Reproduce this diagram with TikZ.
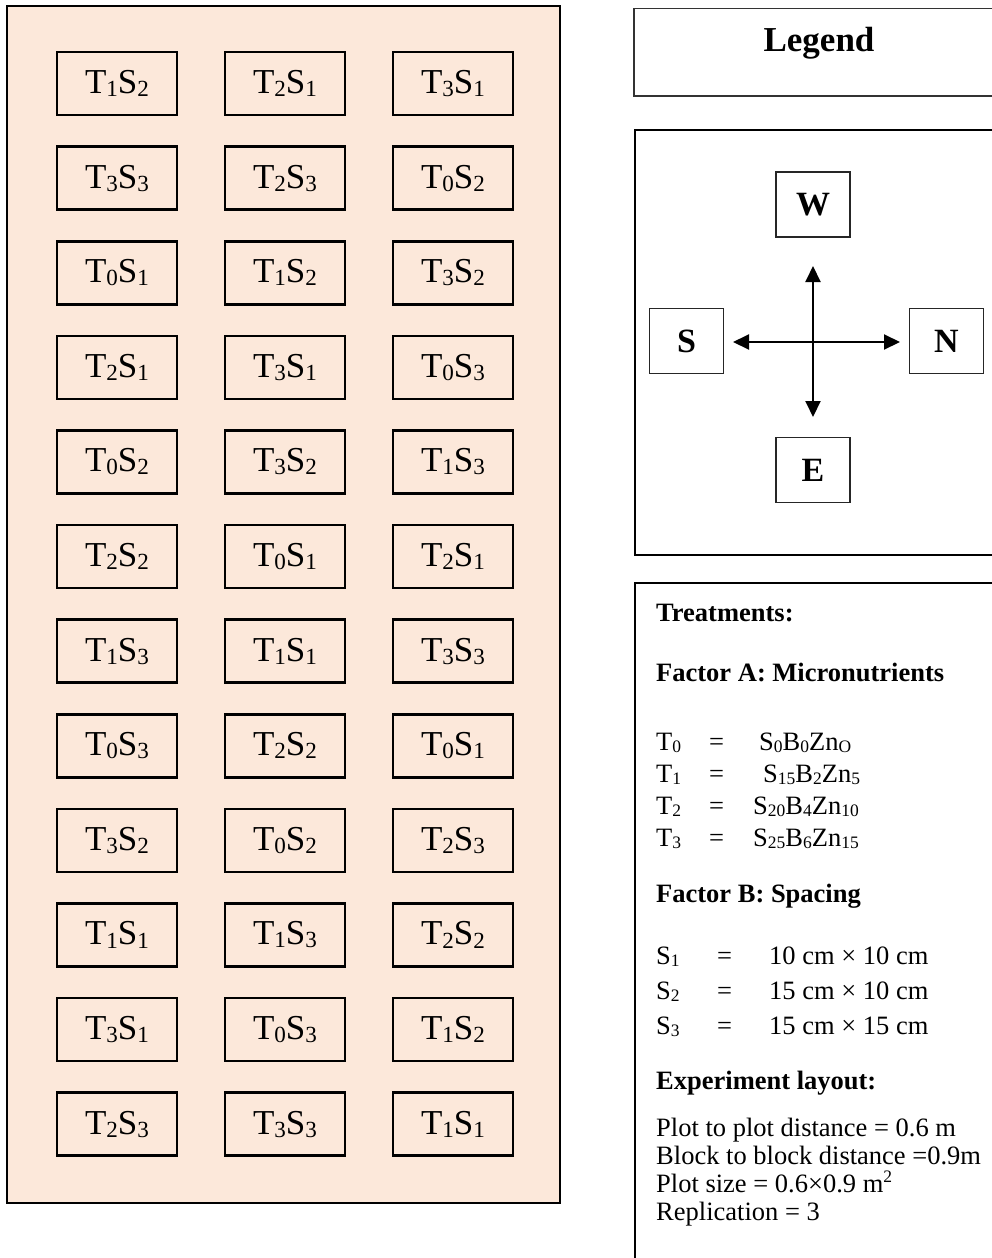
\documentclass[tikz,border=0pt]{standalone}
\usepackage{fontspec}
\setmainfont{Liberation Serif}
\usetikzlibrary{arrows.meta}
\definecolor{peach}{HTML}{FCE8DA}
\makeatletter
\newcommand\sbx[1]{\raisebox{-0.09em}{\fontsize{\strip@pt\dimexpr0.66\dimexpr\f@size pt\relax\relax}{1}\selectfont #1}}
\newcommand\spx[1]{\raisebox{0.36em}{\fontsize{\strip@pt\dimexpr0.66\dimexpr\f@size pt\relax\relax}{1}\selectfont #1}}
\makeatother
\newcommand\pl[2]{T\sbx{#1}S\sbx{#2}}
\begin{document}
\begin{tikzpicture}[x=1pt,y=-1pt,
  plotbox/.style={draw=black,line width=2.6pt,minimum width=120pt,minimum height=63pt,inner sep=0pt,font=\fontsize{35}{40}\selectfont},
  dirbox/.style={draw=black!85,line width=1.6pt,minimum width=74pt,minimum height=65pt,inner sep=0pt,font=\fontsize{34}{40}\selectfont\bfseries},
  txt/.style={anchor=base west,inner sep=0pt,font=\fontsize{26.5}{30}\selectfont},
  hd/.style={anchor=base west,inner sep=0pt,font=\fontsize{26.5}{30}\selectfont\bfseries},
  arr/.style={line width=2pt,{Triangle[length=16pt,width=15pt]}-{Triangle[length=16pt,width=15pt]}}]
\useasboundingbox (0,0) rectangle (992,1258);
\fill[white] (0,0) rectangle (992,1258);
% field
\draw[fill=peach,line width=2.6pt] (7,6) rectangle (560,1203);
\foreach \rw [count=\r] in {{12,21,31},{33,23,02},{01,12,32},{21,31,03},{02,32,13},{22,01,21},{13,11,33},{03,22,01},{32,02,23},{11,13,22},{31,03,12},{23,33,11}}{
  \foreach \cl [count=\c] in \rw {
    \node[plotbox] (p-\r-\c) at ({117+168*(\c-1)},{83.5+94.6*(\r-1)}) {\expandafter\pl\cl};
  }
}
% right-hand boxes (cut by the right edge)
\begin{scope}
\clip (0,0) rectangle (992,1258);
\draw[line width=1.8pt,draw=black!80] (634,8.5) rectangle (1010,96);
\draw[line width=2.6pt] (635,130) rectangle (1010,555);
\draw[line width=2.6pt] (635,583) rectangle (1010,1300);
\end{scope}
\node[font=\fontsize{35}{40}\selectfont\bfseries] (legend) at (819,43) {Legend};
% compass
\node[dirbox] (W) at (813,204.5) {W};
\node[dirbox] (S) at (686.5,341) {S};
\node[dirbox] (N) at (946.5,341) {N};
\node[dirbox] (E) at (813,470) {E};
\coordinate (tW) at (813,266);
\coordinate (tE) at (813,417);
\coordinate (tS) at (733,342);
\coordinate (tN) at (900,342);
\draw[arr] (tW) -- (tE);
\draw[arr] (tS) -- (tN);
% treatments text
\node[hd] (h1) at (656,621) {Treatments:};
\node[hd] (h2) at (656,681) {Factor A: Micronutrients};
\node[txt] (t0) at (656,750) {T\sbx{0}};
\node[txt] (t0e) at (709,750) {=};
\node[txt] (t0v) at (759,750) {S\sbx{0}B\sbx{0}Zn\sbx{O}};
\node[txt] (t1) at (656,782) {T\sbx{1}};
\node[txt] (t1e) at (709,782) {=};
\node[txt] (t1v) at (763,782) {S\sbx{15}B\sbx{2}Zn\sbx{5}};
\node[txt] (t2) at (656,814) {T\sbx{2}};
\node[txt] (t2e) at (709,814) {=};
\node[txt] (t2v) at (753,814) {S\sbx{20}B\sbx{4}Zn\sbx{10}};
\node[txt] (t3) at (656,846) {T\sbx{3}};
\node[txt] (t3e) at (709,846) {=};
\node[txt] (t3v) at (753,846) {S\sbx{25}B\sbx{6}Zn\sbx{15}};
\node[hd] (h3) at (656,902) {Factor B: Spacing};
\node[txt] (s1) at (656,964) {S\sbx{1}};
\node[txt] (s1e) at (717,964) {=};
\node[txt] (s1v) at (769,964) {10 cm × 10 cm};
\node[txt] (s2) at (656,999) {S\sbx{2}};
\node[txt] (s2e) at (717,999) {=};
\node[txt] (s2v) at (769,999) {15 cm × 10 cm};
\node[txt] (s3) at (656,1034) {S\sbx{3}};
\node[txt] (s3e) at (717,1034) {=};
\node[txt] (s3v) at (769,1034) {15 cm × 15 cm};
\node[hd] (h4) at (656,1089) {Experiment layout:};
\node[txt] (e1) at (656,1136) {Plot to plot distance = 0.6 m};
\node[txt] (e2) at (656,1164) {Block to block distance =0.9m};
\node[txt] (e3) at (656,1192) {Plot size = 0.6×0.9 m\spx{2}};
\node[txt] (e4) at (656,1220) {Replication = 3};
\end{tikzpicture}
\end{document}
